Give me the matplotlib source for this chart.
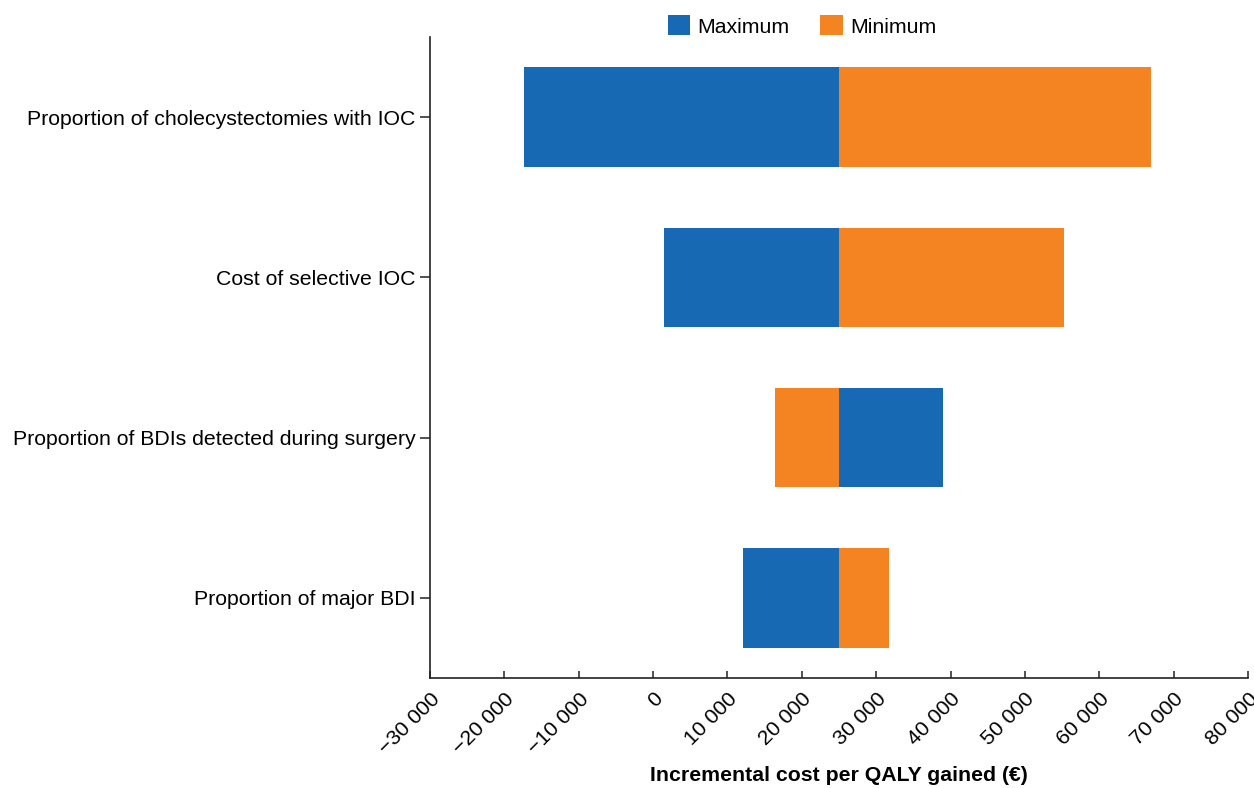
import matplotlib
matplotlib.use("Agg")
import matplotlib.pyplot as plt
from matplotlib.patches import Patch

plt.rcParams['font.family'] = ['Liberation Sans', 'DejaVu Sans']

# One-way sensitivity analysis: ICER at the maximum / minimum value of each parameter
parameters = [
    "Proportion of major BDI",
    "Proportion of BDIs detected during surgery",
    "Cost of selective IOC",
    "Proportion of cholecystectomies with IOC",
]
icer_at_maximum = [12030, 39000, 1440, -17350]
icer_at_minimum = [31750, 16330, 55190, 67020]
base_case = 25000

x_ticks = [-30000, -20000, -10000, 0, 10000, 20000, 30000, 40000, 50000, 60000, 70000, 80000]
x_tick_labels = ["\u221230 000", "\u221220 000", "\u221210 000", "0", "10 000", "20 000",
                 "30 000", "40 000", "50 000", "60 000", "70 000", "80 000"]

blue = "#1869b4"
orange = "#f48322"
fs = 15.3

fig = plt.figure(figsize=(12.54, 7.88), dpi=100)
ax = fig.add_axes([430 / 1254, 1 - 678 / 788, (1248 - 430) / 1254, (678 - 37) / 788])

ypos = list(range(len(parameters)))
bar_h = 0.62
ax.barh(ypos, [v - base_case for v in icer_at_maximum], left=base_case,
        height=bar_h, color=blue, linewidth=0)
ax.barh(ypos, [v - base_case for v in icer_at_minimum], left=base_case,
        height=bar_h, color=orange, linewidth=0)

ax.set_xlim(-30000, 80000)
ax.set_ylim(-0.5, 3.5)
ax.set_yticks(ypos)
ax.set_yticklabels(parameters, fontsize=fs)
ax.set_xticks(x_ticks)
ax.set_xticklabels(x_tick_labels, fontsize=fs, rotation=45, ha='right',
                   va='top', rotation_mode='anchor')

for side in ("top", "right"):
    ax.spines[side].set_visible(False)
for side in ("left", "bottom"):
    ax.spines[side].set_linewidth(1.2)
    ax.spines[side].set_color("#222222")

ax.tick_params(axis='y', direction='out', length=7, width=1.1, pad=3.5, color="#222222")
ax.tick_params(axis='x', direction='in', length=5, width=1.1, pad=8, color="#222222")

ax.set_xlabel("Incremental cost per QALY gained (\u20ac)", fontsize=fs,
              fontweight='bold', labelpad=6)

handles = [Patch(facecolor=blue, label="Maximum"),
           Patch(facecolor=orange, label="Minimum")]
fig.legend(handles=handles, loc='center', bbox_to_anchor=(802 / 1254, 1 - 26 / 788),
           ncol=2, frameon=False, fontsize=fs, handlelength=1.05, handleheight=1.05,
           handletextpad=0.35, columnspacing=1.45)

fig.savefig("out.png", dpi=100)
